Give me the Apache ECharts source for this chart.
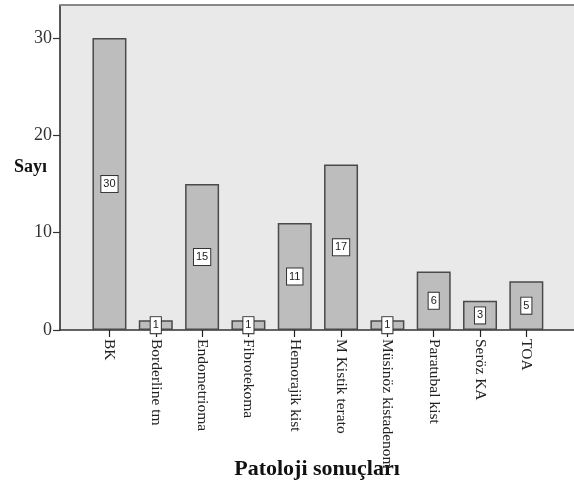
<!DOCTYPE html>
<html><head><meta charset="utf-8">
<script src="https://cdn.jsdelivr.net/npm/echarts@6/dist/echarts.min.js"></script>
<style>html,body{margin:0;padding:0;background:#fff}#c{width:574px;height:486px}</style>
</head><body><div id="c"></div>
<script>
const categories = ['BK','Borderline tm','Endometrioma','Fibrotekoma','Hemorajik kist','M Kistik terato','Müsinöz kistadenom','Paratubal kist','Seröz KA','TOA'];
const counts = [30,1,15,1,11,17,1,6,3,5];
const yTicks = [0,10,20,30];

const chart = echarts.init(document.getElementById('c'));
const yMax = 33.4;
const serif = '"Liberation Serif","Times New Roman",serif';
chart.setOption({
  animation:false,
  backgroundColor:'#fff',
  grid:[
    {left:60,right:0,top:5,bottom:156,show:true,backgroundColor:'#e9e9e9',borderWidth:0,containLabel:false,outerBoundsMode:'none'},
    {left:86.3,right:24.5,top:5,bottom:156,containLabel:false,outerBoundsMode:'none'}
  ],
  xAxis:[
    {gridIndex:0,type:'value',min:0,max:1,axisLine:{show:true,lineStyle:{color:'#333',width:1.5}},axisTick:{show:false},axisLabel:{show:false},splitLine:{show:false},
     name:'Patoloji sonuçları',nameLocation:'middle',nameGap:128,nameMoveOverlap:false,nameTextStyle:{fontFamily:serif,fontWeight:'bold',fontSize:22,color:'#111'}},
    {gridIndex:1,type:'category',data:categories,axisLine:{show:false},
     axisTick:{show:true,alignWithLabel:true,length:7,lineStyle:{color:'#222',width:1.2}},
     axisLabel:{rotate:-90,fontFamily:serif,fontSize:15.5,color:'#222',margin:9,interval:0}}
  ],
  yAxis:[
    {gridIndex:0,type:'value',min:0,max:yMax,interval:10,
     axisLine:{show:true,lineStyle:{color:'#222',width:1.5}},
     axisTick:{show:true,length:7,lineStyle:{color:'#333',width:1.2},customValues:yTicks},
     axisLabel:{fontFamily:serif,fontSize:18,color:'#333',margin:8,customValues:yTicks},
     splitLine:{show:false},
     name:'Sayı',nameLocation:'middle',nameRotate:0,nameGap:13,nameMoveOverlap:false,
     nameTextStyle:{fontFamily:serif,fontWeight:'bold',fontSize:18,color:'#111',verticalAlign:'middle',padding:[12,0,0,0]}},
    {gridIndex:1,type:'value',min:0,max:yMax,show:false}
  ],
  graphic:[{type:'line',shape:{x1:60,y1:5,x2:574,y2:5},style:{stroke:'#888',lineWidth:2},z:10}],
  series:[{
    type:'bar',xAxisIndex:1,yAxisIndex:1,data:counts,barWidth:34,
    itemStyle:{color:'#bdbdbd',borderColor:'#4a4a4a',borderWidth:1.5},
    label:{show:true,position:'inside',fontFamily:'"Liberation Sans",Arial,sans-serif',fontSize:11,lineHeight:12,color:'#222',
      backgroundColor:'#fff',borderColor:'#333',borderWidth:1,padding:[2,2,2,2]}
  }]
});
</script></body></html>
